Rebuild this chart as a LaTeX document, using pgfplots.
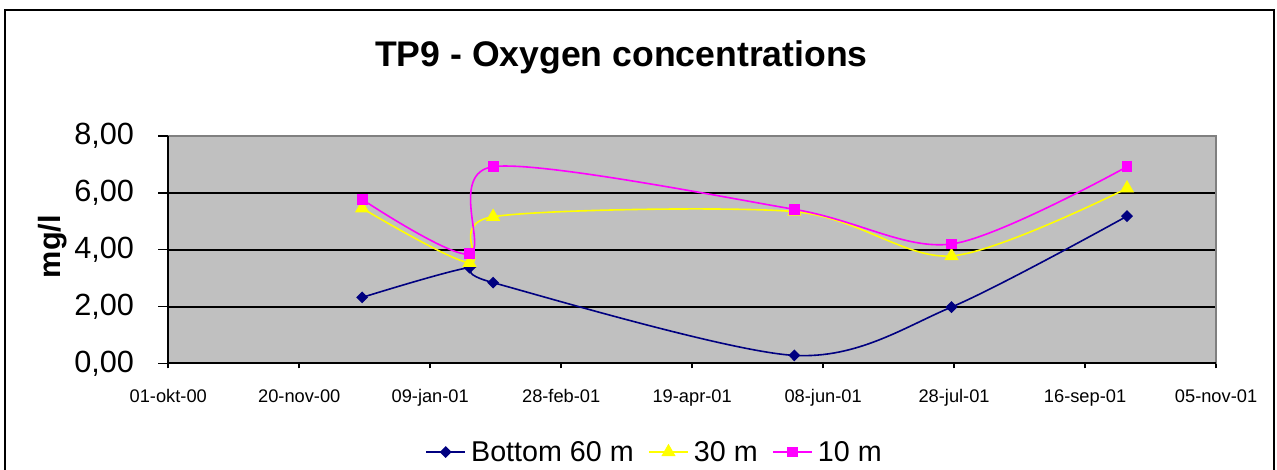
\documentclass[border=0pt]{standalone}
\usepackage{pgfplots}
\pgfplotsset{compat=1.18}
\usepackage{fontspec}
\setmainfont{Liberation Sans}
\definecolor{plotbg}{RGB}{192,192,192}
\definecolor{navyc}{RGB}{0,0,128}
\definecolor{yelc}{RGB}{255,255,0}
\definecolor{magc}{RGB}{255,0,255}
\definecolor{bordergray}{RGB}{128,128,128}
\begin{document}
\begin{tikzpicture}
\begin{axis}[
  at={(0pt,0pt)}, anchor=south west,
  scale only axis, width=785.8pt, height=170.5pt,
  xmin=0, xmax=400, ymin=0, ymax=8,
  axis background/.style={fill=plotbg},
  axis line style={bordergray, line width=1pt},
  xtick={0,50,...,400},
  xticklabels={01-okt-00,20-nov-00,09-jan-01,28-feb-01,19-apr-01,08-jun-01,28-jul-01,16-sep-01,05-nov-01},
  ytick={0,2,4,6,8},
  xtick pos=bottom, ytick pos=left,
  tick align=outside,
  xtick style={black, line width=1.2pt, /pgfplots/major tick length=3.75pt},
  ytick style={black, line width=1.2pt, /pgfplots/major tick length=7.5pt},
  ymajorgrids,
  major grid style={black, line width=1.5pt},
  yticklabel style={font=\fontsize{23}{28}\selectfont, anchor=east, inner sep=0pt, xshift=-21.2pt,
    /pgf/number format/.cd, fixed, fixed zerofill, precision=2, use comma, assume math mode=true},
  xticklabel style={font=\fontsize{13.7}{16}\selectfont, anchor=north, inner sep=0pt, yshift=-15pt},
  legend style={at={(0.4645,-0.39)}, anchor=center, legend columns=3, draw=none, fill=none,
    font=\fontsize{21.5}{26}\selectfont,
    /tikz/every odd column/.append style={column sep=2pt},
    /tikz/every even column/.append style={column sep=9pt},
    legend cell align=left},
  legend image code/.code={\draw[mark repeat=2,mark phase=2] plot coordinates {(0pt,0pt) (14.5pt,0pt) (29pt,0pt)};},
  every axis plot/.append style={line width=1.2pt},
  after end axis/.code={
    \draw[bordergray, line width=1.2pt] (rel axis cs:0,1) -- (rel axis cs:1,1) -- (rel axis cs:1,0);
    \draw[black, line width=1.5pt] (rel axis cs:0,1) -- (rel axis cs:0,0) -- (rel axis cs:1,0);
  },
]
\addplot[navyc, smooth, mark=diamond*, mark size=3.6pt, mark options={solid, fill=navyc, xscale=1.333}]
  coordinates {(74,2.32) (115,3.37) (124,2.84) (239,0.28) (299,1.98) (366,5.18)};
\addlegendentry{Bottom 60 m}
\addplot[yelc, smooth, mark=triangle*, mark size=5pt, mark options={solid, fill=yelc}]
  coordinates {(74,5.46) (115,3.54) (124,5.16) (239,5.34) (299,3.78) (366,6.16)};
\addlegendentry{30 m}
\addplot[magc, smooth, mark=square*, mark size=3.5pt, mark options={solid, fill=magc}]
  coordinates {(74,5.77) (115,3.85) (124,6.92) (239,5.42) (299,4.20) (366,6.92)};
\addlegendentry{10 m}
\end{axis}
\node[anchor=base, inner sep=0pt, font=\fontsize{26.7}{32}\selectfont\bfseries] at (339.9pt,222.5pt) {TP9 - Oxygen concentrations};
\node[rotate=90, anchor=base, inner sep=0pt, font=\fontsize{23}{28}\selectfont\bfseries] at (-80.5pt,87.6pt) {mg/l};
\draw[line width=1.5pt] (-122.5pt,-95pt) rectangle (829.3pt,265pt);
\pgfresetboundingbox
\useasboundingbox (-126.2pt,-79.3pt) rectangle (831.5pt,272.5pt);
\end{tikzpicture}
\end{document}
